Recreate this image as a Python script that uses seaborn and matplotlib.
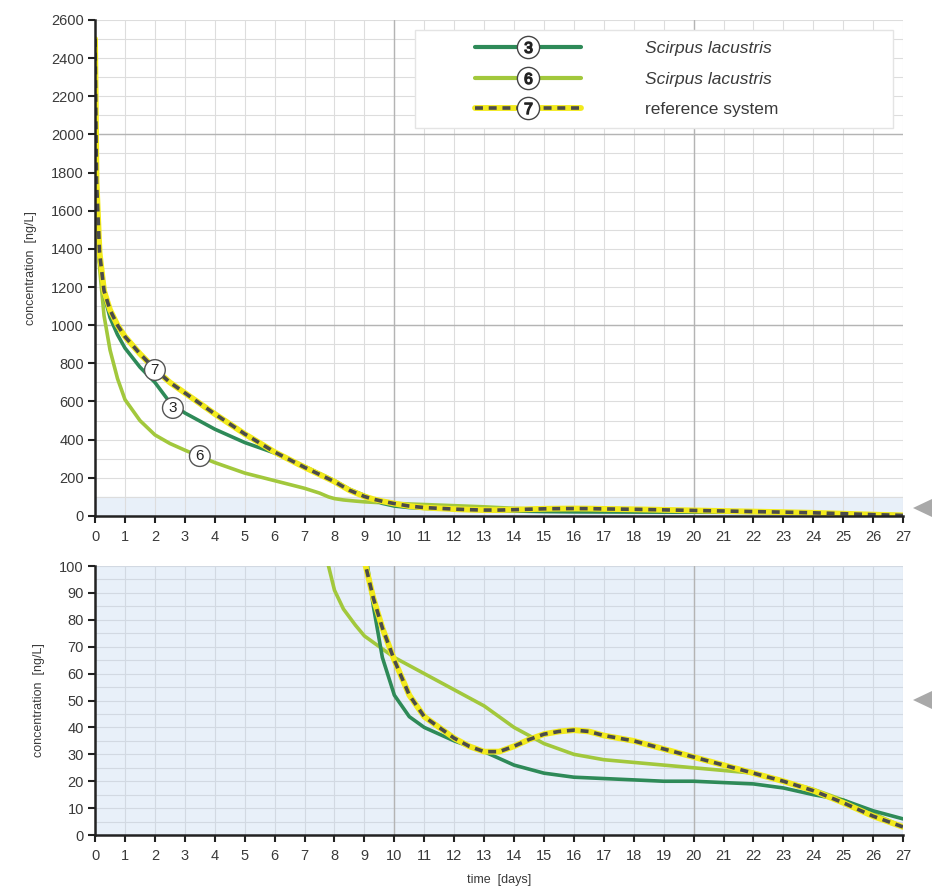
import numpy as np
import pandas as pd
import matplotlib
matplotlib.use("Agg")
import matplotlib.pyplot as plt
import seaborn as sns
import matplotlib.ticker as plticker
from matplotlib.lines import Line2D
from matplotlib.patches import Polygon, Rectangle
from matplotlib.legend_handler import HandlerTuple, HandlerLine2D

# values (time in days, concentration in ng/L)
days_3 = [0, 0.05, 0.15, 0.3, 0.5, 0.75, 1, 1.5, 2, 2.5, 3, 4, 5, 6, 7, 8, 8.5, 9, 9.3, 9.6,
          10, 10.5, 11, 12, 13, 14, 15, 16, 17, 18, 19, 20, 21, 22, 23, 24, 25, 26, 27]
conc_3 = [2450, 1700, 1330, 1160, 1040, 950, 880, 780, 700, 595, 540, 455, 385, 330, 260, 185, 140, 108, 85, 66,
          52, 44, 40, 35, 31, 26, 23, 21.5, 21, 20.5, 20, 20, 19.5, 19, 17.5, 15, 13, 9, 6]

days_6 = [0, 0.05, 0.15, 0.3, 0.5, 0.75, 1, 1.5, 2, 2.5, 3, 3.5, 4, 5, 6, 7, 7.5, 7.8, 8, 8.3, 8.7, 9, 9.5,
          10, 11, 12, 13, 14, 15, 16, 17, 18, 19, 20, 21, 22, 23, 24, 25, 26, 27]
conc_6 = [2450, 1600, 1300, 1050, 870, 720, 610, 500, 425, 380, 345, 312, 280, 225, 185, 145, 120, 100, 91, 84, 78, 74, 70,
          66, 60, 54, 48, 40, 34, 30, 28, 27, 26, 25, 24, 23, 20, 17, 13, 8, 3]

days_7 = [0, 0.05, 0.15, 0.3, 0.5, 0.75, 1, 1.5, 2, 2.5, 3, 4, 5, 6, 7, 8, 8.5, 9, 9.3, 9.6,
          10, 10.5, 11, 11.5, 12, 12.5, 13, 13.5, 14, 14.5, 15, 15.5, 16, 16.5, 17, 18, 19, 20,
          21, 22, 23, 24, 25, 26, 27]
conc_7 = [2500, 1750, 1380, 1180, 1080, 1000, 940, 850, 770, 700, 645, 535, 430, 335, 255, 180, 135, 102, 88, 77,
          65, 52, 44, 40, 36, 33, 31, 31, 33, 35.5, 37.5, 38.5, 39, 38.5, 37, 35, 32, 29,
          26, 23, 20, 16.5, 12, 7, 3]

series_ids = ["3", "6", "7"]
legend_text = ["Scirpus lacustris", "Scirpus lacustris", "reference system"]
x_ticks = list(range(0, 28))

df = pd.concat([
    pd.DataFrame({"day": days_3, "conc": conc_3, "series": "3"}),
    pd.DataFrame({"day": days_6, "conc": conc_6, "series": "6"}),
    pd.DataFrame({"day": days_7, "conc": conc_7, "series": "7"}),
])

sns.set_theme(style="white")
plt.rcParams["font.family"] = ["Liberation Sans", "DejaVu Sans"]
plt.rcParams["mathtext.fontset"] = "custom"
plt.rcParams["mathtext.rm"] = "Liberation Sans"
plt.rcParams["mathtext.it"] = "Liberation Sans"

dark_green = "#2e8a58"
light_green = "#a2c83c"
yellow = "#f2ea1c"
dash_grey = "#4b4b4b"
band_blue = "#e8f0f9"
text_grey = "#3a3a3a"

fig = plt.figure(figsize=(9.32, 8.89), dpi=100)
ax_top = fig.add_axes([0.102, 0.4196, 0.867, 0.558])
ax_bot = fig.add_axes([0.102, 0.0607, 0.867, 0.3026])


def draw_series(ax):
    d3 = df[df.series == "3"]
    d6 = df[df.series == "6"]
    d7 = df[df.series == "7"]
    sns.lineplot(data=d6, x="day", y="conc", ax=ax, color=light_green, lw=2.6, zorder=3)
    sns.lineplot(data=d3, x="day", y="conc", ax=ax, color=dark_green, lw=2.6, zorder=4)
    sns.lineplot(data=d7, x="day", y="conc", ax=ax, color=yellow, lw=4.2, zorder=5)
    l = sns.lineplot(data=d7, x="day", y="conc", ax=ax, color=dash_grey, lw=2.6, zorder=6)
    l.lines[-1].set_dashes([2.2, 1.6])
    l.lines[-1].set_dash_capstyle("butt")


def style_axis(ax, ymax, ymajor, yminor, dark_y, grid_c):
    ax.set_xlim(0, 27)
    ax.set_ylim(0, ymax)
    ax.set_xticks(x_ticks)
    ax.yaxis.set_major_locator(plticker.MultipleLocator(ymajor))
    ax.yaxis.set_minor_locator(plticker.MultipleLocator(yminor))
    ax.grid(True, which="both", axis="y", color=grid_c, lw=0.8)
    ax.grid(True, which="major", axis="x", color=grid_c, lw=0.8)
    for v in dark_y:
        ax.axhline(v, color="#b4b4b4", lw=1.0, zorder=1)
    for v in [10, 20]:
        ax.axvline(v, color="#b4b4b4", lw=1.0, zorder=1)
    ax.set_axisbelow(True)
    for s in ["top", "right"]:
        ax.spines[s].set_visible(False)
    for s in ["left", "bottom"]:
        ax.spines[s].set_color("#222222")
        ax.spines[s].set_linewidth(1.8)
        ax.spines[s].set_zorder(7)
    ax.tick_params(axis="both", which="major", direction="out", length=5, width=1.5,
                   color="#222222", labelsize=10.5, labelcolor=text_grey, pad=3, left=True, bottom=True)
    ax.tick_params(axis="x", which="major", pad=5)
    ax.tick_params(axis="both", which="minor", length=0)
    ax.set_xlabel("")
    ax.set_ylabel("concentration  [ng/L]", fontsize=9, color=text_grey, labelpad=10)


# top panel
ax_top.axhspan(0, 100, color=band_blue, zorder=0)
draw_series(ax_top)
style_axis(ax_top, 2600, 200, 100, [1000, 2000], "#dddddd")

# circled labels on the curves
for txt, (xx, yy) in zip(["7", "3", "6"], [(2.0, 765), (2.6, 566), (3.5, 314)]):
    ax_top.text(xx, yy, txt, ha="center", va="center", fontsize=11, color="#222222", zorder=9,
                bbox=dict(boxstyle="circle,pad=0.22", fc="white", ec="#555555", lw=1.0))


class OffsetMarker(HandlerLine2D):
    # put the circled number about 70 % along the legend line
    def get_xdata(self, legend, xdescent, ydescent, width, height, fontsize):
        xd, xm = super().get_xdata(legend, xdescent, ydescent, width, height, fontsize)
        return xd, np.array([-xdescent + 0.71 * width])


def circle_pair(num):
    c = Line2D([], [], ls="none", marker="o", ms=16, mfc="white", mec="#444444", mew=1.0)
    n = Line2D([], [], ls="none", marker="$%s$" % num, ms=8, color="#222222")
    return c, n


c3, n3 = circle_pair("3")
c6, n6 = circle_pair("6")
c7, n7 = circle_pair("7")
h3 = (Line2D([], [], color=dark_green, lw=3), c3, n3)
h6 = (Line2D([], [], color=light_green, lw=3), c6, n6)
h7 = (Line2D([], [], color=yellow, lw=4.2),
      Line2D([], [], color=dash_grey, lw=2.6, dashes=[2.2, 1.6]), c7, n7)
hmap = {tuple: HandlerTuple(ndivide=1, pad=0)}
for m in [c3, n3, c6, n6, c7, n7]:
    hmap[m] = OffsetMarker()

# legend box
ax_top.add_patch(Rectangle((0.396, 0.782), 0.592, 0.198, transform=ax_top.transAxes,
                           fc="white", ec="#e4e4e4", lw=1.0, zorder=8))
leg = ax_top.legend([h3, h6, h7], legend_text, handler_map=hmap,
                    loc="upper left", bbox_to_anchor=(0.470, 0.958), frameon=False,
                    handlelength=6.1, handletextpad=3.7, borderpad=0, labelspacing=0.9,
                    fontsize=12.5, borderaxespad=0)
for t, name in zip(leg.get_texts(), legend_text):
    t.set_color(text_grey)
    if name != "reference system":
        t.set_style("italic")
leg.set_zorder(10)

# bottom panel (zoom to 0-100 ng/L)
ax_bot.set_facecolor(band_blue)
draw_series(ax_bot)
style_axis(ax_bot, 100, 10, 5, [], "#d2d9e2")
ax_bot.set_xlabel("time  [days]", fontsize=9, color=text_grey, labelpad=8)

# grey pointer triangles on the right edge
W, H = 932, 889
for ypix in [508, 700]:
    tri = Polygon([(913 / W, 1 - ypix / H), (932 / W, 1 - (ypix - 9) / H), (932 / W, 1 - (ypix + 9) / H)],
                  closed=True, transform=fig.transFigure, color="#a9a9a9", lw=0)
    fig.patches.append(tri)

fig.savefig("out.png", dpi=100)
